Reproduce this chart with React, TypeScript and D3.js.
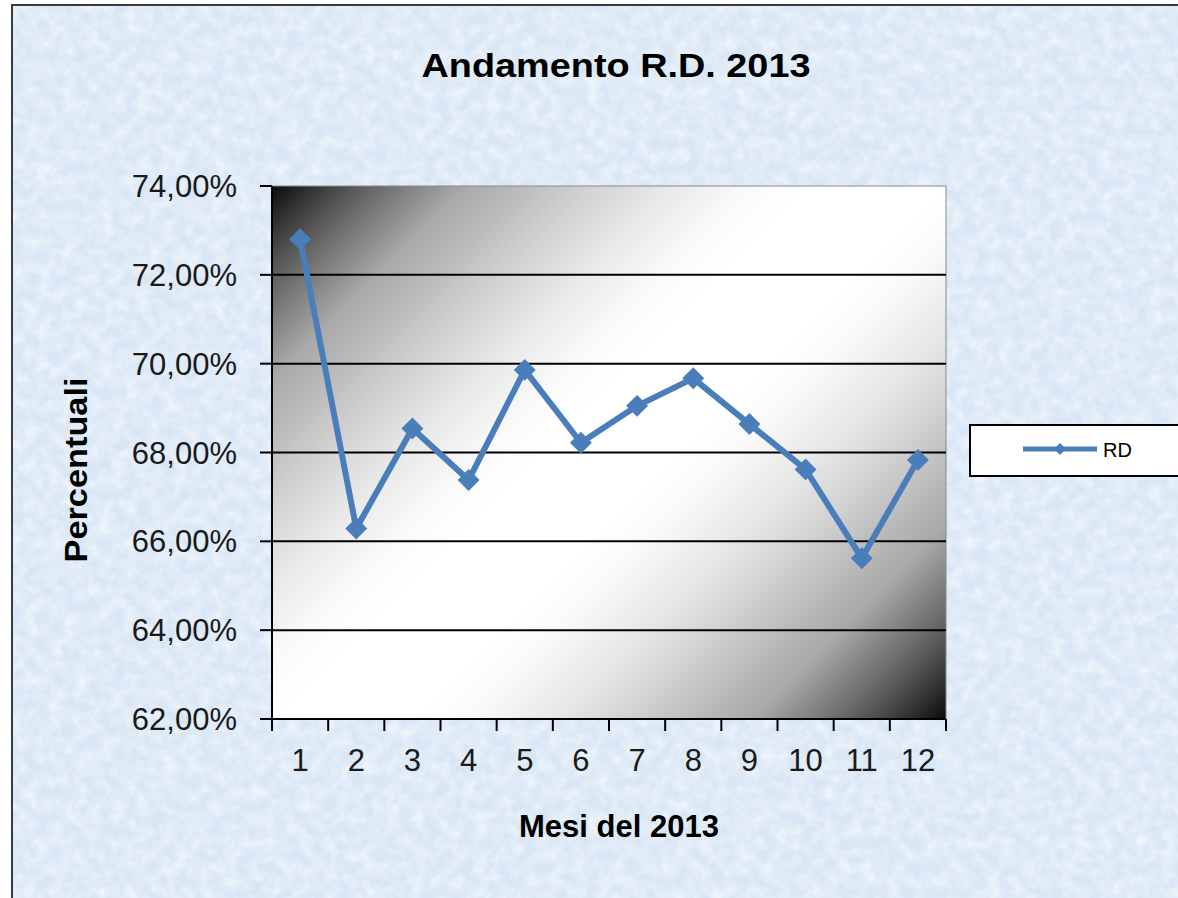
import React from 'react';
import * as d3 from 'd3';

// values (percent)
const months = ['1', '2', '3', '4', '5', '6', '7', '8', '9', '10', '11', '12'];
const rd = [72.8, 66.29, 68.54, 67.38, 69.86, 68.22, 69.05, 69.67, 68.64, 67.62, 65.62, 67.83];
const yTicks = [62, 64, 66, 68, 70, 72, 74];

const W = 1178;
const H = 898;
const FONT = '"Liberation Sans", Arial, sans-serif';
const BLUE = '#4a7ebb';

// grey ramp of the plot fill, dark corners and a white band across the middle
const rampStops: [number, string][] = [
  [0, '#0a0a0a'], [0.041, '#3a3a3a'], [0.084, '#666666'], [0.159, '#a8a8a8'],
  [0.211, '#bcbcbc'], [0.27, '#d4d4d4'], [0.328, '#e8e8e8'], [0.398, '#fafafa'], [0.445, '#ffffff'],
  [0.555, '#ffffff'], [0.602, '#fafafa'], [0.672, '#e8e8e8'], [0.73, '#d4d4d4'], [0.789, '#bcbcbc'],
  [0.841, '#a8a8a8'], [0.916, '#666666'], [0.959, '#3a3a3a'], [1, '#0a0a0a'],
];

const App = () => {
  const x = d3.scaleBand().domain(months).range([272, 946]);
  const y = d3.scaleLinear().domain([62, 74]).range([719, 186]);
  const [x0, x1] = x.range();
  const [yb, yt] = y.range();

  const line = d3.line<number>()
    .x((_, i) => x(months[i])! + x.bandwidth() / 2)
    .y(d => y(d));

  const diamond = d3.symbol().type(d3.symbolSquare).size(240)();
  const smallDiamond = d3.symbol().type(d3.symbolSquare).size(70)();

  const fmt = (v: number) => v.toFixed(2).replace('.', ',') + '%';

  // 45 degree gradient in pixel space, corner to corner projection
  const dMax = (x1 - x0 + yb - yt) / 2;

  return (
    <div style={{ position: 'absolute', left: 0, top: 0, width: W, height: H, overflow: 'hidden' }}>
      <svg width={W} height={H} style={{ display: 'block' }}>
        <defs>
          <linearGradient id="plotFill" gradientUnits="userSpaceOnUse"
            x1={x0} y1={yt} x2={x0 + dMax} y2={yt + dMax}>
            {rampStops.map(([o, c]) => <stop key={o} offset={o} stopColor={c} />)}
          </linearGradient>
          <filter id="paper" x="0" y="0" width="100%" height="100%">
            <feTurbulence type="fractalNoise" baseFrequency="0.08" numOctaves="4" seed="7" />
            <feColorMatrix type="matrix"
              values="0 0 0 0 1  0 0 0 0 1  0 0 0 0 1  1.0 0 0 0 -0.3" />
          </filter>
        </defs>

        <rect x={0} y={0} width={W} height={H} fill="#ffffff" />
        <rect x={12} y={5} width={W + 100} height={H + 100} fill="#d8e6f5" stroke="#3a3a3a" strokeWidth={2} />
        <rect x={13} y={6} width={W} height={H} filter="url(#paper)" />

        <text x={616} y={77} textAnchor="middle" fontFamily={FONT} fontWeight="bold"
          fontSize={33} textLength={389} lengthAdjust="spacingAndGlyphs" fill="#000">
          Andamento R.D. 2013
        </text>

        {/* plot area */}
        <rect x={x0} y={yt} width={x1 - x0} height={yb - yt} fill="url(#plotFill)" stroke="#8a8a8a" strokeWidth={1} />

        {yTicks.slice(1, -1).map(t => (
          <line key={t} x1={x0} x2={x1} y1={y(t)} y2={y(t)} stroke="#000" strokeWidth={2} />
        ))}

        {/* y axis */}
        <line x1={x0} x2={x0} y1={yt} y2={yb} stroke="#000" strokeWidth={2} />
        {yTicks.map(t => (
          <g key={t}>
            <line x1={x0 - 12} x2={x0} y1={y(t)} y2={y(t)} stroke="#000" strokeWidth={2} />
            <text x={237} y={y(t) + 11} textAnchor="end" fontFamily={FONT} fontSize={31} fill="#1a1a1a">
              {fmt(t)}
            </text>
          </g>
        ))}

        {/* x axis */}
        <line x1={x0} x2={x1} y1={yb} y2={yb} stroke="#000" strokeWidth={2} />
        {[...months.map(m => x(m)!), x1].map((px, i) => (
          <line key={i} x1={px} x2={px} y1={yb} y2={yb + 12} stroke="#000" strokeWidth={2} />
        ))}
        {months.map(m => (
          <text key={m} x={x(m)! + x.bandwidth() / 2} y={771} textAnchor="middle" fontFamily={FONT}
            fontSize={31} fill="#1a1a1a">
            {m}
          </text>
        ))}

        <text x={619} y={837} textAnchor="middle" fontFamily={FONT} fontWeight="bold" fontSize={31} fill="#000">
          Mesi del 2013
        </text>
        <text transform="translate(87,470) rotate(-90)" textAnchor="middle" fontFamily={FONT}
          fontWeight="bold" fontSize={32} textLength={185} lengthAdjust="spacingAndGlyphs" fill="#000">
          Percentuali
        </text>

        {/* series */}
        <path d={line(rd)!} fill="none" stroke={BLUE} strokeWidth={6} strokeLinejoin="round" />
        {rd.map((v, i) => (
          <path key={i} d={diamond}
            transform={`translate(${x(months[i])! + x.bandwidth() / 2},${y(v)}) rotate(45)`}
            fill={BLUE} />
        ))}

        {/* legend */}
        <rect x={970} y={425} width={260} height={51} fill="#fff" stroke="#000" strokeWidth={2} />
        <line x1={1023} x2={1097} y1={449} y2={449} stroke={BLUE} strokeWidth={5} />
        <path d={smallDiamond} transform="translate(1060,449) rotate(45)" fill={BLUE} />
        <text x={1103} y={457} fontFamily={FONT} fontSize={20} fill="#000">RD</text>
      </svg>
    </div>
  );
};

export default App;
